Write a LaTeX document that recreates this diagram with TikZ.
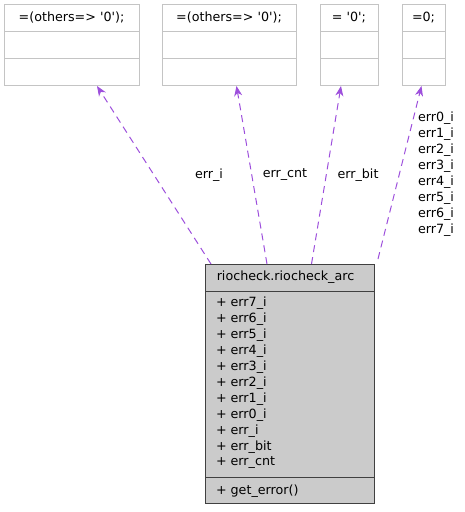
\documentclass[tikz,border=0pt]{standalone}
\usepackage{fontspec}
\setmainfont{DejaVu Sans}
\usetikzlibrary{arrows.meta}
\definecolor{edgec}{HTML}{9D4FDC}
\definecolor{boxgray}{HTML}{C4C4C4}
\definecolor{fillgray}{HTML}{CBCBCB}
\definecolor{mainborder}{HTML}{404040}
\newcommand{\sq}{\textquotesingle}
\begin{document}
\begin{tikzpicture}[x=1pt,y=-1pt,
  every node/.style={inner sep=0pt,outer sep=0pt,font=\fontsize{12.7}{16}\selectfont},
  valbox/.style={draw=boxgray,fill=white,line width=1pt,rectangle,minimum height=81pt},
  mainbox/.style={draw=mainborder,fill=fillgray,line width=1pt,rectangle,minimum width=169pt,minimum height=239pt},
  sep/.style={line width=1pt},
  txt/.style={anchor=center},
  attr/.style={anchor=west},
  lbl/.style={anchor=center},
  uses/.style={draw=edgec,line width=1pt,dash pattern=on 7pt off 5pt,-{Stealth[length=10pt,width=8pt,inset=3pt]}}
]
\useasboundingbox (0,0) rectangle (464,512);
% value boxes
\node[valbox,minimum width=135pt] (b1) at (71.5,44.5) {};
\node[valbox,minimum width=134pt] (b2) at (229,44.5) {};
\node[valbox,minimum width=58pt] (b3) at (349,44.5) {};
\node[valbox,minimum width=43pt] (b4) at (423.5,44.5) {};
\foreach \b in {b1,b2,b3,b4}{
  \draw[boxgray,sep] ([yshift=-27.5pt]\b.north west) -- ([yshift=-27.5pt]\b.north east);
  \draw[boxgray,sep] ([yshift=-54pt]\b.north west) -- ([yshift=-54pt]\b.north east);
}
\node[txt] (t1) at (71.5,18) {=(others=> \sq0\sq);};
\node[txt] (t2) at (229,18) {=(others=> \sq0\sq);};
\node[txt] (t3) at (349,18) {= \sq0\sq;};
\node[txt] (t4) at (423.5,18) {=0;};
% main box
\node[mainbox] (main) at (289.5,383.5) {};
\draw[mainborder,sep] ([yshift=-27pt]main.north west) -- ([yshift=-27pt]main.north east);
\draw[mainborder,sep] ([yshift=-213pt]main.north west) -- ([yshift=-213pt]main.north east);
\node[txt] (mt) at (285.5,277.5) {riocheck.riocheck\_arc};
\foreach \n [count=\i from 0] in {err7\_i,err6\_i,err5\_i,err4\_i,err3\_i,err2\_i,err1\_i,err0\_i,err\_i,err\_bit,err\_cnt}{
  \node[attr] (a\i) at (216,303+16*\i) {+ \n};
}
\node[attr] (op) at (216,491) {+ get\_error()};
% edge end points
\coordinate (s1) at ([xshift=6pt]main.north west);
\coordinate (s2) at ([xshift=62pt]main.north west);
\coordinate (s3) at ([xshift=106.5pt]main.north west);
\coordinate (s4) at ([xshift=4pt,yshift=5pt]main.north east);
\coordinate (d1) at ([xshift=25.5pt,yshift=-1pt]b1.south);
\coordinate (d2) at ([xshift=7.5pt,yshift=-1pt]b2.south);
\coordinate (d3) at ([xshift=-8pt,yshift=-1pt]b3.south);
\coordinate (d4) at ([xshift=-2pt,yshift=-1pt]b4.south);
\draw[uses] (s1) -- (d1);
\draw[uses] (s2) -- (d2);
\draw[uses] (s3) -- (d3);
\draw[uses] (s4) -- (d4);
% labels
\node[lbl] (l1) at (209,175) {err\_i};
\node[lbl] (l2) at (285,175) {err\_cnt};
\node[lbl] (l3) at (358,175) {err\_bit};
\foreach \k in {0,...,7}{
  \node[attr] (m\k) at (418,118+16*\k) {err\k\_i};
}
\end{tikzpicture}
\end{document}
